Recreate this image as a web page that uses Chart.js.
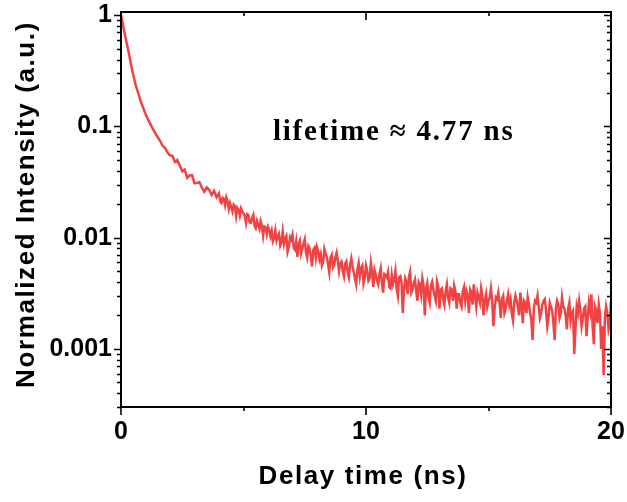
<!DOCTYPE html>
<html>
<head>
<meta charset="utf-8">
<script src="https://cdn.jsdelivr.net/npm/chart.js@4.4.0/dist/chart.umd.min.js"></script>
<style>
  html, body { margin: 0; padding: 0; background: #fff; }
  #wrap { width: 627px; height: 502px; position: relative; }
</style>
</head>
<body>
<div id="wrap"><canvas id="decayChart"></canvas></div>
<script>
// Delay time (ns): every 0.1 ns up to 4 ns, then every 0.05 ns
const delayTimes = [
  0.0, 0.1, 0.2, 0.3, 0.4, 0.5, 0.6, 0.7, 0.8, 0.9,
  1.0, 1.1, 1.2, 1.3, 1.4, 1.5, 1.6, 1.7, 1.8, 1.9,
  2.0, 2.1, 2.2, 2.3, 2.4, 2.5, 2.6, 2.7, 2.8, 2.9,
  3.0, 3.1, 3.2, 3.3, 3.4, 3.5, 3.6, 3.7, 3.8, 3.9,
  4.00, 4.05, 4.10, 4.15, 4.20, 4.25, 4.30, 4.35, 4.40, 4.45,
  4.50, 4.55, 4.60, 4.65, 4.70, 4.75, 4.80, 4.85, 4.90, 4.95,
  5.00, 5.05, 5.10, 5.15, 5.20, 5.25, 5.30, 5.35, 5.40, 5.45,
  5.50, 5.55, 5.60, 5.65, 5.70, 5.75, 5.80, 5.85, 5.90, 5.95,
  6.00, 6.05, 6.10, 6.15, 6.20, 6.25, 6.30, 6.35, 6.40, 6.45,
  6.50, 6.55, 6.60, 6.65, 6.70, 6.75, 6.80, 6.85, 6.90, 6.95,
  7.00, 7.05, 7.10, 7.15, 7.20, 7.25, 7.30, 7.35, 7.40, 7.45,
  7.50, 7.55, 7.60, 7.65, 7.70, 7.75, 7.80, 7.85, 7.90, 7.95,
  8.00, 8.05, 8.10, 8.15, 8.20, 8.25, 8.30, 8.35, 8.40, 8.45,
  8.50, 8.55, 8.60, 8.65, 8.70, 8.75, 8.80, 8.85, 8.90, 8.95,
  9.00, 9.05, 9.10, 9.15, 9.20, 9.25, 9.30, 9.35, 9.40, 9.45,
  9.50, 9.55, 9.60, 9.65, 9.70, 9.75, 9.80, 9.85, 9.90, 9.95,
  10.00, 10.05, 10.10, 10.15, 10.20, 10.25, 10.30, 10.35, 10.40, 10.45,
  10.50, 10.55, 10.60, 10.65, 10.70, 10.75, 10.80, 10.85, 10.90, 10.95,
  11.00, 11.05, 11.10, 11.15, 11.20, 11.25, 11.30, 11.35, 11.40, 11.45,
  11.50, 11.55, 11.60, 11.65, 11.70, 11.75, 11.80, 11.85, 11.90, 11.95,
  12.00, 12.05, 12.10, 12.15, 12.20, 12.25, 12.30, 12.35, 12.40, 12.45,
  12.50, 12.55, 12.60, 12.65, 12.70, 12.75, 12.80, 12.85, 12.90, 12.95,
  13.00, 13.05, 13.10, 13.15, 13.20, 13.25, 13.30, 13.35, 13.40, 13.45,
  13.50, 13.55, 13.60, 13.65, 13.70, 13.75, 13.80, 13.85, 13.90, 13.95,
  14.00, 14.05, 14.10, 14.15, 14.20, 14.25, 14.30, 14.35, 14.40, 14.45,
  14.50, 14.55, 14.60, 14.65, 14.70, 14.75, 14.80, 14.85, 14.90, 14.95,
  15.00, 15.05, 15.10, 15.15, 15.20, 15.25, 15.30, 15.35, 15.40, 15.45,
  15.50, 15.55, 15.60, 15.65, 15.70, 15.75, 15.80, 15.85, 15.90, 15.95,
  16.00, 16.05, 16.10, 16.15, 16.20, 16.25, 16.30, 16.35, 16.40, 16.45,
  16.50, 16.55, 16.60, 16.65, 16.70, 16.75, 16.80, 16.85, 16.90, 16.95,
  17.00, 17.05, 17.10, 17.15, 17.20, 17.25, 17.30, 17.35, 17.40, 17.45,
  17.50, 17.55, 17.60, 17.65, 17.70, 17.75, 17.80, 17.85, 17.90, 17.95,
  18.00, 18.05, 18.10, 18.15, 18.20, 18.25, 18.30, 18.35, 18.40, 18.45,
  18.50, 18.55, 18.60, 18.65, 18.70, 18.75, 18.80, 18.85, 18.90, 18.95,
  19.00, 19.05, 19.10, 19.15, 19.20, 19.25, 19.30, 19.35, 19.40, 19.45,
  19.50, 19.55, 19.60, 19.65, 19.70, 19.75, 19.80, 19.85, 19.90, 19.95,
  20.00
];

// Normalized intensity (a.u.)
const intensity = [
  1.0, 0.78, 0.61, 0.48, 0.37, 0.29, 0.235, 0.20, 0.17, 0.148,
  0.13, 0.116, 0.105, 0.095, 0.087, 0.08, 0.074, 0.067, 0.064, 0.058,
  0.055, 0.0545, 0.048, 0.050, 0.0445, 0.0395, 0.041, 0.0345, 0.0363, 0.0365,
  0.0309, 0.031, 0.0316, 0.0281, 0.0259, 0.0283, 0.0268, 0.0242, 0.0264, 0.0231,
  0.0250, 0.0212, 0.0205, 0.0228, 0.0223, 0.0196, 0.0230, 0.0212, 0.0181, 0.0204,
  0.0188, 0.0172, 0.0198, 0.0191, 0.0156, 0.0185, 0.0177, 0.0158, 0.0183, 0.0172,
  0.0165, 0.0158, 0.0136, 0.0162, 0.0159, 0.0138, 0.0136, 0.0150, 0.0160, 0.0129,
  0.0122, 0.0141, 0.0130, 0.0120, 0.0141, 0.0128, 0.0104, 0.0126, 0.0124, 0.0108,
  0.0125, 0.0117, 0.0103, 0.0115, 0.0093, 0.0099, 0.0116, 0.0094, 0.0102, 0.0108,
  0.0085, 0.0091, 0.0113, 0.0088, 0.0099, 0.0104, 0.0075, 0.0083, 0.0101, 0.0096,
  0.0106, 0.0081, 0.0078, 0.0092, 0.0067, 0.0088, 0.0094, 0.0072, 0.0080, 0.0089,
  0.0097, 0.0073, 0.0066, 0.0084, 0.0080, 0.0068, 0.0055, 0.0078, 0.0081, 0.0066,
  0.0082, 0.0075, 0.0064, 0.0071, 0.0056, 0.0060, 0.0079, 0.0072, 0.0067, 0.0058,
  0.0049, 0.0066, 0.0070, 0.0054, 0.0057, 0.0066, 0.0073, 0.0062, 0.0050, 0.0059,
  0.0061, 0.0050, 0.0045, 0.0058, 0.0061, 0.0049, 0.0044, 0.0057, 0.0065, 0.0055,
  0.0049, 0.0043, 0.0038, 0.0052, 0.0059, 0.0045, 0.0053, 0.0056, 0.0039, 0.0044,
  0.0056, 0.0050, 0.0041, 0.0043, 0.0059, 0.0049, 0.0036, 0.0051, 0.0046, 0.0041,
  0.0038, 0.0047, 0.0053, 0.0039, 0.0032, 0.0047, 0.0046, 0.0044, 0.0049, 0.0036,
  0.0035, 0.0046, 0.0038, 0.0042, 0.0050, 0.0035, 0.0030, 0.0044, 0.0045, 0.0040,
  0.0021, 0.0033, 0.0043, 0.0040, 0.0031, 0.0044, 0.0049, 0.0032, 0.0034, 0.0039,
  0.0042, 0.0033, 0.0027, 0.0040, 0.0038, 0.0031, 0.0043, 0.0037, 0.0020, 0.0035,
  0.0039, 0.0029, 0.0026, 0.0037, 0.0040, 0.0034, 0.0030, 0.0027, 0.0040, 0.0036,
  0.0023, 0.0034, 0.0035, 0.0028, 0.0025, 0.0033, 0.0038, 0.0029, 0.0026, 0.0035,
  0.0034, 0.0027, 0.0037, 0.0033, 0.0023, 0.0031, 0.0031, 0.0026, 0.0024, 0.0033,
  0.0036, 0.0027, 0.0033, 0.0030, 0.0021, 0.0034, 0.0032, 0.0025, 0.0038, 0.0030,
  0.0024, 0.0032, 0.0029, 0.0026, 0.0035, 0.0030, 0.0020, 0.0027, 0.0031, 0.0024,
  0.0027, 0.0029, 0.0035, 0.0027, 0.0016, 0.0023, 0.0029, 0.0028, 0.0032, 0.0026,
  0.0019, 0.0028, 0.0030, 0.0021, 0.0023, 0.0027, 0.0031, 0.0025, 0.0028, 0.0021,
  0.0018, 0.0026, 0.0030, 0.0027, 0.0024, 0.0020, 0.0032, 0.0025, 0.0017, 0.0027,
  0.0026, 0.0021, 0.0029, 0.0025, 0.0021, 0.0018, 0.0012, 0.0023, 0.0027, 0.0026,
  0.0030, 0.0024, 0.0019, 0.0021, 0.0025, 0.0027, 0.0028, 0.0022, 0.0016, 0.0019,
  0.0026, 0.0024, 0.0022, 0.0017, 0.0012, 0.0023, 0.0027, 0.0025, 0.0019, 0.0021,
  0.0029, 0.0024, 0.0023, 0.0020, 0.0015, 0.0023, 0.0026, 0.0018, 0.0021, 0.0022,
  0.0009, 0.0015, 0.0024, 0.0021, 0.0027, 0.0022, 0.0016, 0.0019, 0.0023, 0.0024,
  0.0013, 0.0019, 0.0026, 0.0022, 0.0031, 0.0016, 0.0011, 0.0024, 0.0022, 0.0017,
  0.0025, 0.0021, 0.0010, 0.0016, 0.00058, 0.0019, 0.0024, 0.0021, 0.0015, 0.0017,
  0.0027
];

// Axis ticks
const xMajorTicks = [0, 10, 20];
const xMinorTicks = [5, 15];
const yMajorTicks = [1, 0.1, 0.01, 0.001];
const yTickLabels = ['1', '0.1', '0.01', '0.001'];
const yMinorMultipliers = [2, 3, 4, 5, 6, 7, 8, 9];
const yDecades = [0.0001, 0.001, 0.01, 0.1];

const xTitle = 'Delay time (ns)';
const yTitle = 'Normalized Intensity (a.u.)';
const annotationText = 'lifetime \u2248 4.77 ns';

const sansFamily = '"Liberation Sans", Arial, sans-serif';

// frame on all four sides, Origin-style ticks (outward left/bottom, inward top/right),
// axis titles and the lifetime label
const frameAndTicks = {
  id: 'frameAndTicks',
  afterDraw(chart) {
    const { ctx, chartArea: a, scales: { x, y } } = chart;
    ctx.save();
    ctx.strokeStyle = '#000';
    ctx.lineWidth = 2;
    ctx.strokeRect(a.left, a.top, a.right - a.left, a.bottom - a.top);

    ctx.lineWidth = 1.6;
    ctx.beginPath();
    const xTick = (v, len) => {
      const px = Math.round(x.getPixelForValue(v));
      ctx.moveTo(px, a.bottom); ctx.lineTo(px, a.bottom + len);
      ctx.moveTo(px, a.top); ctx.lineTo(px, a.top + len);
    };
    const yTick = (v, len) => {
      const py = Math.round(y.getPixelForValue(v)) + 0.5;
      if (py < a.top - 1 || py > a.bottom + 1) return;
      ctx.moveTo(a.left, py); ctx.lineTo(a.left - len, py);
      ctx.moveTo(a.right, py); ctx.lineTo(a.right - len, py);
    };
    xMajorTicks.forEach(v => xTick(v, 8));
    xMinorTicks.forEach(v => xTick(v, 4));
    yMajorTicks.forEach(v => yTick(v, 7));
    yDecades.forEach(d => yMinorMultipliers.forEach(m => yTick(d * m, 4)));
    ctx.stroke();

    ctx.fillStyle = '#000';
    ctx.textBaseline = 'alphabetic';
    ctx.textAlign = 'center';
    ctx.font = 'bold 26px ' + sansFamily;
    ctx.letterSpacing = '1.6px';
    ctx.fillText(xTitle, (a.left + a.right) / 2 - 3, a.bottom + 77);

    ctx.save();
    ctx.translate(a.left - 87.5, (a.top + a.bottom) / 2 - 5);
    ctx.rotate(-Math.PI / 2);
    ctx.fillText(yTitle, 0, 0);
    ctx.restore();

    ctx.font = 'bold 29px "Liberation Serif", "Times New Roman", serif';
    ctx.letterSpacing = '1.8px';
    ctx.textAlign = 'left';
    ctx.fillText(annotationText, x.getPixelForValue(6.2), y.getPixelForValue(0.0756));
    ctx.restore();
  }
};

new Chart(document.getElementById('decayChart'), {
  type: 'line',
  data: {
    datasets: [{
      data: delayTimes.map((t, i) => ({ x: t, y: intensity[i] })),
      borderColor: 'rgb(240, 68, 68)',
      borderWidth: 2.5,
      pointRadius: 0,
      tension: 0,
      fill: false
    }]
  },
  options: {
    responsive: true,
    maintainAspectRatio: false,
    animation: false,
    layout: { padding: { left: 0, top: 12, right: 16, bottom: 0 } },
    plugins: {
      legend: { display: false },
      tooltip: { enabled: false }
    },
    scales: {
      x: {
        type: 'linear',
        min: 0,
        max: 20,
        grid: { display: false, drawTicks: false },
        border: { display: false },
        afterBuildTicks: s => { s.ticks = xMajorTicks.map(v => ({ value: v })); },
        afterFit: s => { s.height = 95; s.paddingLeft = 0; s.paddingRight = 0; },
        ticks: {
          color: '#000',
          font: { family: sansFamily, size: 25, weight: 'bold', lineHeight: 1 },
          padding: 13,
          maxRotation: 0,
          autoSkip: false
        }
      },
      y: {
        type: 'logarithmic',
        min: 0.0003,
        max: 1.07,
        grid: { display: false, drawTicks: false },
        border: { display: false },
        afterBuildTicks: s => { s.ticks = yMajorTicks.map(v => ({ value: v })); },
        afterFit: s => { s.width = 121; s.paddingTop = 0; s.paddingBottom = 0; },
        ticks: {
          color: '#000',
          font: { family: sansFamily, size: 25, weight: 'bold', lineHeight: 1 },
          padding: 9,
          autoSkip: false,
          callback: v => yTickLabels[yMajorTicks.indexOf(v)]
        }
      }
    }
  },
  plugins: [frameAndTicks]
});
</script>
</body>
</html>
